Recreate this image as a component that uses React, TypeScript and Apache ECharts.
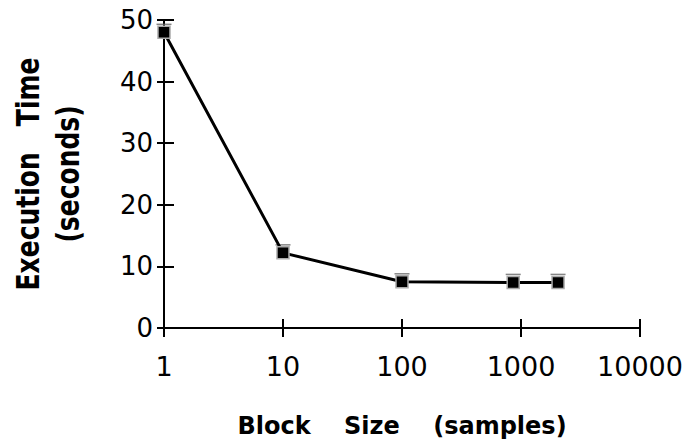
import React, { useEffect, useRef } from "react";
import * as echarts from "echarts";

const blockSizes = [1, 10, 100, 860, 2048];
const execTimes = [48, 12.2, 7.5, 7.4, 7.4];
const xTicks = [1, 10, 100, 1000, 10000];
const yTicks = [0, 10, 20, 30, 40, 50];

const FONT = "DejaVu Sans";

export default function App() {
  const ref = useRef<HTMLDivElement>(null);
  useEffect(() => {
    if (!ref.current) return;
    const chart = echarts.init(ref.current, undefined, { renderer: "svg" });
    const axisLine = { show: true, onZero: false, lineStyle: { color: "#000", width: 2 } };
    const points = blockSizes.map((x, i) => [x, execTimes[i]]);
    chart.setOption({
      animation: false,
      backgroundColor: "#fff",
      grid: { left: 164, right: 45, top: 20, bottom: 114, containLabel: false, outerBoundsMode: "none" },
      xAxis: [
        {
          type: "log",
          logBase: 10,
          min: xTicks[0],
          max: xTicks[xTicks.length - 1],
          axisLine,
          axisTick: { show: true, length: 9, lineStyle: { color: "#000", width: 2 } },
          splitLine: { show: false },
          minorTick: { show: false },
          axisLabel: {
            color: "#000",
            fontFamily: FONT,
            fontSize: 27,
            margin: 25,
            formatter: (v: number) => String(Math.round(v)),
          },
        },
        {
          type: "log",
          logBase: 10,
          min: xTicks[0],
          max: xTicks[xTicks.length - 1],
          position: "bottom",
          axisLine: { show: false },
          axisTick: { show: true, inside: true, length: 9, lineStyle: { color: "#000", width: 2 } },
          axisLabel: { show: false },
          splitLine: { show: false },
        },
      ],
      yAxis: [
        {
          type: "value",
          min: yTicks[0],
          max: yTicks[yTicks.length - 1],
          interval: 10,
          axisLine,
          axisTick: { show: true, length: 7, lineStyle: { color: "#000", width: 2 } },
          splitLine: { show: false },
          axisLabel: { color: "#000", fontFamily: FONT, fontSize: 26, margin: 11 },
        },
        {
          type: "value",
          min: yTicks[0],
          max: yTicks[yTicks.length - 1],
          interval: 10,
          position: "left",
          axisLine: { show: false },
          axisTick: { show: true, inside: true, length: 10, lineStyle: { color: "#000", width: 2 } },
          axisLabel: { show: false },
          splitLine: { show: false },
        },
      ],
      graphic: [
        {
          type: "text",
          x: 402,
          y: 426,
          style: {
            text: "Block    Size    (samples)",
            fontFamily: FONT,
            fontSize: 24,
            fontWeight: "bold",
            fill: "#000",
            align: "center",
            verticalAlign: "middle",
          },
        },
        {
          type: "text",
          x: 48,
          y: 174,
          rotation: Math.PI / 2,
          scaleY: 1.3,
          style: {
            text: "Execution   Time\n(seconds)",
            fontFamily: FONT,
            fontSize: 25,
            fontWeight: "bold",
            fill: "#000",
            align: "center",
            verticalAlign: "middle",
            lineHeight: 31,
          },
        },
      ],
      series: [
        {
          type: "line",
          xAxisIndex: 0,
          yAxisIndex: 0,
          data: points,
          symbol: "rect",
          symbolSize: 12,
          showAllSymbol: true,
          lineStyle: { color: "#000", width: 3 },
          itemStyle: { color: "#000", borderColor: "#aaa", borderWidth: 1.5 },
          z: 3,
        },
        {
          type: "scatter",
          xAxisIndex: 0,
          yAxisIndex: 0,
          data: points,
          symbol: "rect",
          symbolSize: [15, 1.5],
          symbolOffset: [0, -8],
          itemStyle: { color: "#666" },
          silent: true,
          z: 2,
        },
      ],
    });
    return () => chart.dispose();
  }, []);
  return <div ref={ref} style={{ width: 685, height: 442, position: "absolute", left: 0, top: 0 }} />;
}
